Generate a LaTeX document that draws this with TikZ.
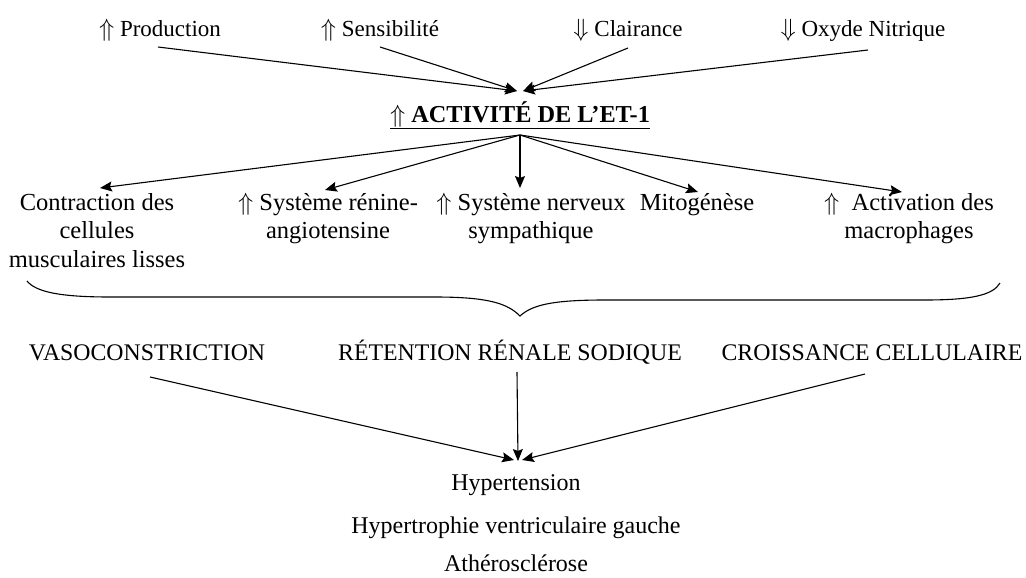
\documentclass[tikz,border=0pt]{standalone}
\usepackage{fontspec}
\setmainfont{Liberation Serif}
\usetikzlibrary{arrows.meta}
\begin{document}
\begin{tikzpicture}[x=1pt,y=-1pt,
 lbl/.style={align=center, inner sep=0pt},
 toprow/.style={lbl, font=\fontsize{23}{28}\selectfont, anchor=base},
 effect/.style={lbl, font=\fontsize{24.5}{28.5}\selectfont, anchor=north},
 result/.style={lbl, font=\fontsize{23.8}{28}\selectfont, anchor=base},
 outcome/.style={lbl, font=\fontsize{24}{28}\selectfont, anchor=base},
 arr/.style={-{Stealth[length=12pt,width=10pt,inset=2pt]}, line width=1.1pt},
 bracepath/.style={line width=1.1pt}]
\fill[white] (0,0) rectangle (1026,578);
% top causes
\node[toprow] (prod) at (160,37) {$\Uparrow$ Production};
\node[toprow] (sens) at (380,37) {$\Uparrow$ Sensibilité};
\node[toprow] (clair) at (628,37) {$\Downarrow$ Clairance};
\node[toprow] (oxy) at (863,37) {$\Downarrow$ Oxyde Nitrique};
\coordinate (inL) at (517,91);
\coordinate (inR) at (523,91);
\draw[arr] ([xshift=-2pt,yshift=-10pt]prod.base) -- (inL);
\draw[arr] ([yshift=-10pt]sens.base) -- (inL);
\draw[arr] ([yshift=-11pt]clair.base) -- (inR);
\draw[arr] ([xshift=5pt,yshift=-13pt]oxy.base) -- (inR);
% central
\node[lbl, font=\fontsize{24.3}{28}\selectfont\bfseries, anchor=base] (act) at (520,122) {\underline{$\Uparrow$ ACTIVITÉ DE L’ET-1}};
\coordinate (hub) at (520,135);
% effects
\node[effect] (c1) at (97,193) {Contraction des\\cellules\\musculaires lisses};
\node[effect] (c2) at (328,193) {$\Uparrow$ Système rénine-\\angiotensine};
\node[effect] (c3) at (531,193) {$\Uparrow$ Système nerveux\\sympathique};
\node[effect] (c4) at (697,193) {Mitogénèse};
\node[effect] (c5) at (909,193) {$\Uparrow$\ \ Activation des\\macrophages};
\draw[arr] (hub) -- ([xshift=3pt,yshift=5pt]c1.north);
\draw[arr] (hub) -- ([xshift=-3pt,yshift=3pt]c2.north);
\draw[arr] (hub) -- ([xshift=-11pt,yshift=5pt]c3.north);
\draw[arr] (hub) -- ([xshift=1pt,yshift=1pt]c4.north);
\draw[arr] (hub) -- ([xshift=-7pt,yshift=1pt]c5.north);
% brace
\draw[bracepath] (27,281) .. controls (36,292) and (60,297) .. (110,297) -- (435,297) .. controls (490,297) and (508,304) .. (520,316) .. controls (532,305) and (552,300) .. (605,300) -- (925,300) .. controls (972,300) and (993,295) .. (1000,283);
% consequences
\node[result] (vaso) at (147,360) {VASOCONSTRICTION};
\node[result] (ret) at (510,360) {RÉTENTION RÉNALE SODIQUE};
\node[result] (crois) at (872,360) {CROISSANCE CELLULAIRE};
\coordinate (outp) at (518,461);
\draw[arr] ([xshift=3pt,yshift=-17pt]vaso.base) -- ([xshift=-4pt,yshift=1pt]outp);
\draw[arr] ([xshift=7pt,yshift=-12pt]ret.base) -- (outp);
\draw[arr] ([xshift=-7pt,yshift=-14pt]crois.base) -- ([xshift=4pt,yshift=1pt]outp);
% outcomes
\node[outcome] (hyp) at (516,490) {Hypertension};
\node[outcome] (hvg) at (516,533) {Hypertrophie ventriculaire gauche};
\node[outcome] (ath) at (516,571) {Athérosclérose};
\end{tikzpicture}
\end{document}
